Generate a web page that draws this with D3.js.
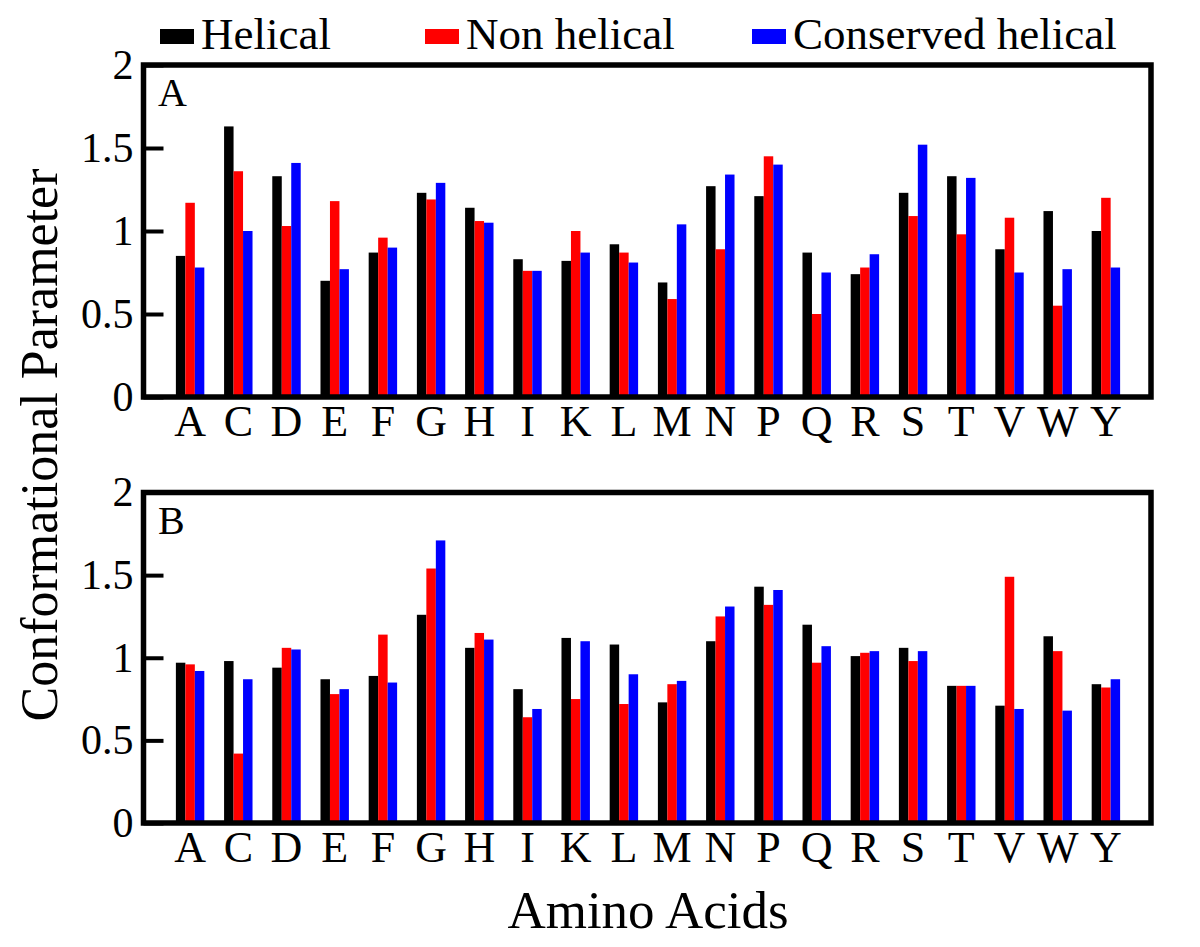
<!DOCTYPE html>
<html>
<head>
<meta charset="utf-8">
<script src="https://cdn.jsdelivr.net/npm/d3@7"></script>
<style>
  body { margin: 0; background: #fff; }
  text { font-family: "Liberation Serif", "Times New Roman", serif; fill: #000; }
</style>
</head>
<body>
<script>
// amino acids on the x axis
const aminoAcids = ['A','C','D','E','F','G','H','I','K','L','M','N','P','Q','R','S','T','V','W','Y'];
const series = ['Helical', 'Non helical', 'Conserved helical'];
const colors = ['#000000', '#ff0000', '#0000ff'];

// panel A values
const helicalA    = [0.85, 1.63, 1.33, 0.70, 0.87, 1.23, 1.14, 0.83, 0.82, 0.92, 0.69, 1.27, 1.21, 0.87, 0.74, 1.23, 1.33, 0.89, 1.12, 1.00];
const nonHelicalA = [1.17, 1.36, 1.03, 1.18, 0.96, 1.19, 1.06, 0.76, 1.00, 0.87, 0.59, 0.89, 1.45, 0.50, 0.78, 1.09, 0.98, 1.08, 0.55, 1.20];
const conservedA  = [0.78, 1.00, 1.41, 0.77, 0.90, 1.29, 1.05, 0.76, 0.87, 0.81, 1.04, 1.34, 1.40, 0.75, 0.86, 1.52, 1.32, 0.75, 0.77, 0.78];

// panel B values
const helicalB    = [0.97, 0.98, 0.94, 0.87, 0.89, 1.26, 1.06, 0.81, 1.12, 1.08, 0.73, 1.10, 1.43, 1.20, 1.01, 1.06, 0.83, 0.71, 1.13, 0.84];
const nonHelicalB = [0.96, 0.42, 1.06, 0.78, 1.14, 1.54, 1.15, 0.64, 0.75, 0.72, 0.84, 1.25, 1.32, 0.97, 1.03, 0.98, 0.83, 1.49, 1.04, 0.82];
const conservedB  = [0.92, 0.87, 1.05, 0.81, 0.85, 1.71, 1.11, 0.69, 1.10, 0.90, 0.86, 1.31, 1.41, 1.07, 1.04, 1.04, 0.83, 0.69, 0.68, 0.87];

const yTicks = [0, 0.5, 1, 1.5, 2];
const yTickLabels = ['0', '0.5', '1', '1.5', '2'];

const width = 1200, height = 947;
const svg = d3.select('body').append('svg').attr('width', width).attr('height', height);

const left = 143.5, right = 1151;

const x0 = d3.scaleBand().domain(aminoAcids).range([166, 1130]).paddingInner(0.41).paddingOuter(0.205);
const x1 = d3.scaleBand().domain(series).range([0, x0.bandwidth()]);

const panels = [
  { label: 'A', top: 65, bottom: 397, data: [helicalA, nonHelicalA, conservedA] },
  { label: 'B', top: 492.5, bottom: 823, data: [helicalB, nonHelicalB, conservedB] }
];

panels.forEach((p) => {
  const y = d3.scaleLinear().domain([0, 2]).range([p.bottom, p.top]);
  const g = svg.append('g');

  // bars
  const rows = aminoAcids.map((aa, i) => ({ aa, vals: series.map((s, k) => ({ s, k, v: p.data[k][i] })) }));
  g.append('g')
    .selectAll('g')
    .data(rows)
    .join('g')
      .attr('transform', (d) => `translate(${x0(d.aa)},0)`)
    .selectAll('rect')
    .data((d) => d.vals)
    .join('rect')
      .attr('x', (d) => x1(d.s))
      .attr('width', x1.bandwidth())
      .attr('y', (d) => y(d.v))
      .attr('height', (d) => y(0) - y(d.v))
      .attr('fill', (d) => colors[d.k]);

  // frame
  g.append('rect')
    .attr('x', left).attr('y', p.top)
    .attr('width', right - left).attr('height', p.bottom - p.top)
    .attr('fill', 'none').attr('stroke', '#000').attr('stroke-width', 5.5);

  // y axis, ticks point inwards
  const yAxis = g.append('g')
    .attr('transform', `translate(${left},0)`)
    .call(d3.axisLeft(y).tickValues(yTicks).tickFormat((d, i) => yTickLabels[i]).tickSize(-20).tickPadding(10));
  yAxis.select('.domain').remove();
  yAxis.selectAll('line').attr('stroke-width', 4);
  yAxis.selectAll('text').attr('font-size', 42).attr('font-family', '"Liberation Serif", serif');

  // x axis labels
  const xAxis = g.append('g')
    .attr('transform', `translate(0,${p.bottom})`)
    .call(d3.axisBottom(x0).tickSize(0));
  xAxis.select('.domain').remove();
  xAxis.selectAll('text')
    .attr('y', 39).attr('dy', 0)
    .attr('font-size', 44).attr('font-family', '"Liberation Serif", serif');

  // panel letter
  g.append('text')
    .attr('x', 158).attr('y', p.top + 41)
    .attr('font-size', 40)
    .text(p.label);
});

// axis titles
svg.append('text')
  .attr('transform', 'translate(57,445) rotate(-90)')
  .attr('text-anchor', 'middle')
  .attr('font-size', 52)
  .text('Conformational Parameter');

svg.append('text')
  .attr('x', 648).attr('y', 928)
  .attr('text-anchor', 'middle')
  .attr('font-size', 53)
  .text('Amino Acids');

// legend
const legendX = [160, 425, 752];
const legend = svg.append('g')
  .selectAll('g')
  .data(series)
  .join('g')
    .attr('transform', (d, i) => `translate(${legendX[i]},0)`);
legend.append('rect')
  .attr('x', 0).attr('y', 29).attr('width', 34).attr('height', 15)
  .attr('fill', (d, i) => colors[i]);
legend.append('text')
  .attr('x', 41).attr('y', 49)
  .attr('font-size', 45)
  .text((d) => d);
</script>
</body>
</html>
